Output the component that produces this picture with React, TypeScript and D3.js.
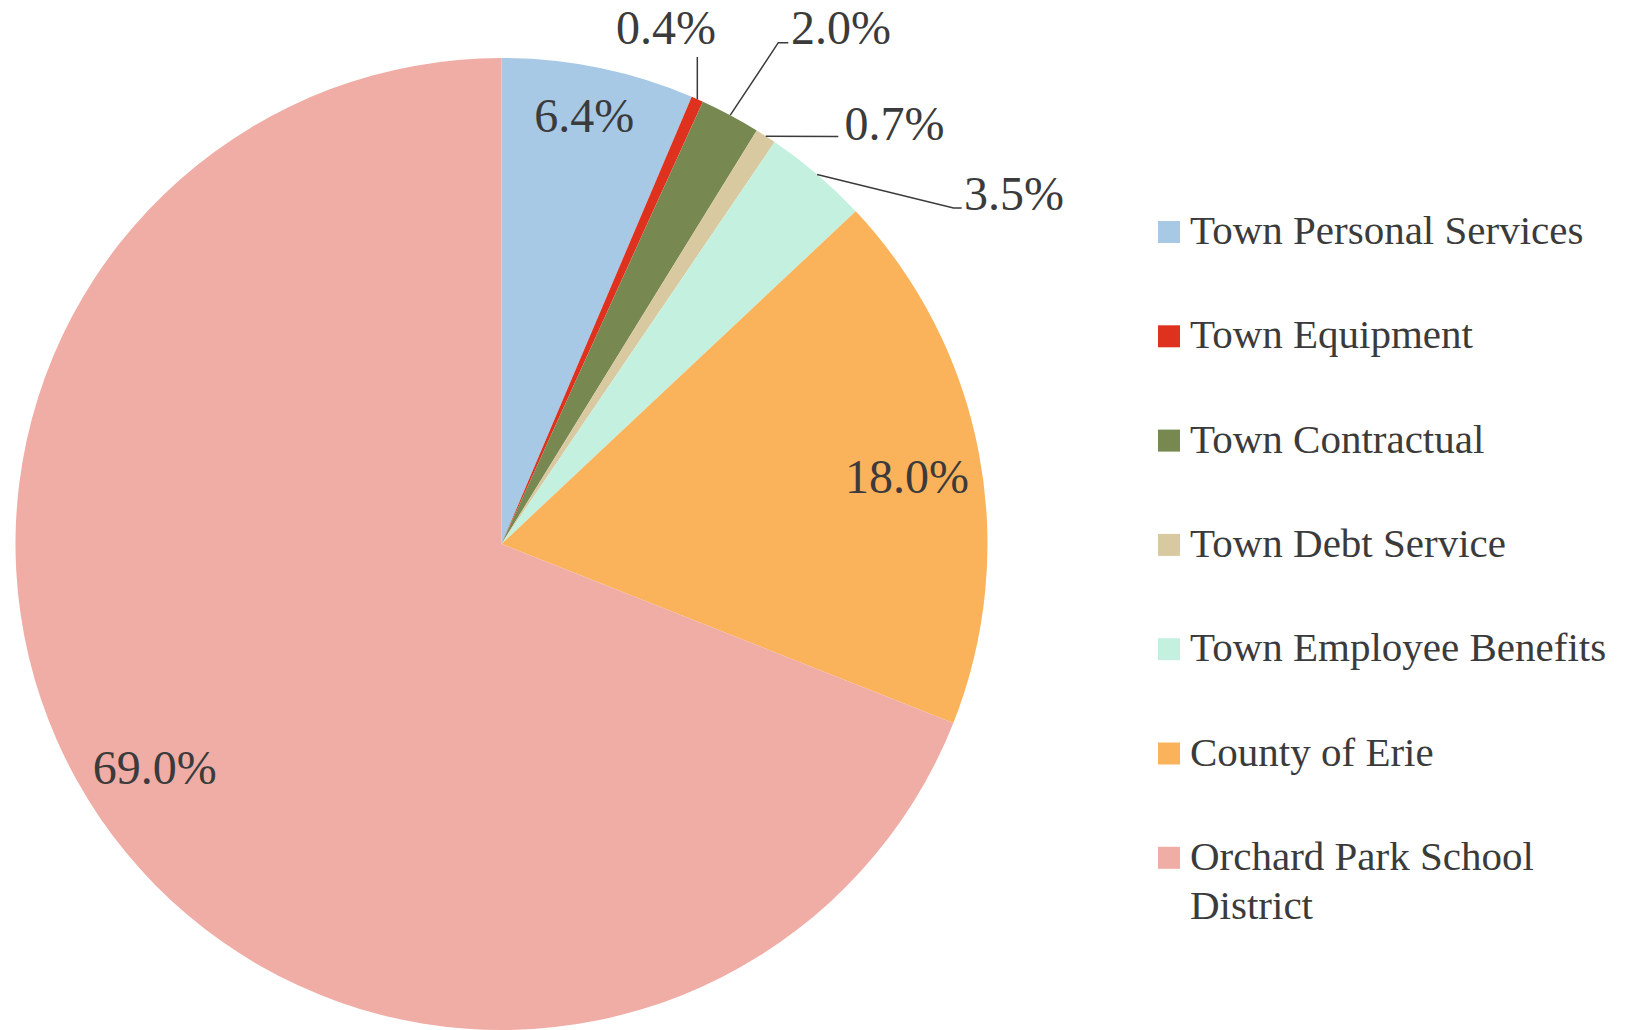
import React from "react";
import * as d3 from "d3";

const categories = [
  "Town Personal Services",
  "Town Equipment",
  "Town Contractual",
  "Town Debt Service",
  "Town Employee Benefits",
  "County of Erie",
  "Orchard Park School District",
];
const values = [6.4, 0.4, 2.0, 0.7, 3.5, 18.0, 69.0];
const valueLabels = ["6.4%", "0.4%", "2.0%", "0.7%", "3.5%", "18.0%", "69.0%"];
const colors = ["#A7C9E5", "#DE321F", "#778851", "#D9C9A0", "#C4F0E0", "#FBB35B", "#EFADA6"];
const legendLines = [
  ["Town Personal Services"],
  ["Town Equipment"],
  ["Town Contractual"],
  ["Town Debt Service"],
  ["Town Employee Benefits"],
  ["County of Erie"],
  ["Orchard Park School", "District"],
];

// layout
const W = 1625;
const H = 1030;
const CX = 501.5;
const CY = 544;
const R = 486;
const FONT = "'Liberation Serif', 'Times New Roman', serif";
const TEXT = "#3b3b3b";
const LABEL_SIZE = 48;
const LEGEND_SIZE = 41;

// inside labels: index -> radius factor and small nudges
const insideLabels: { i: number; rf: number; dx: number; dy: number }[] = [
  { i: 0, rf: 0.9, dx: -4.5, dy: 0 },
  { i: 5, rf: 0.846, dx: 1.5, dy: 9.3 },
  { i: 6, rf: 0.85, dx: -5, dy: -9.3 },
];
// outside labels with leader lines (absolute layout points)
const outsideLabels: {
  i: number;
  pts: [number, number][];
  tx: number;
  ty: number;
  anchor: string;
}[] = [
  { i: 1, pts: [[697.3, 57]], tx: 666, ty: 43.5, anchor: "middle" },
  { i: 2, pts: [[778.3, 42.7], [788.3, 42.7]], tx: 791, ty: 43.5, anchor: "start" },
  { i: 3, pts: [[838.3, 136.5]], tx: 844.5, ty: 139.5, anchor: "start" },
  { i: 4, pts: [[953.5, 208], [961.7, 208]], tx: 964, ty: 210, anchor: "start" },
];

const LEG_X = 1158;
const LEG_Y0 = 244;
const LEG_STEP = 104.3;
const LEG_SW = 22;
const LEG_LINE = 49;

export default function App() {
  const pie = d3
    .pie<number>()
    .sort(null)
    .startAngle(0)
    .endAngle(2 * Math.PI)
    .value((d) => d);
  const arcs = pie(values);
  const arc = d3.arc<d3.PieArcDatum<number>>().innerRadius(0).outerRadius(R);
  const mid = (a: d3.PieArcDatum<number>) => (a.startAngle + a.endAngle) / 2;
  const polar = (ang: number, r: number): [number, number] => [
    CX + r * Math.sin(ang),
    CY - r * Math.cos(ang),
  ];
  const line = d3.line();

  return (
    <svg
      width={W}
      height={H}
      style={{ position: "absolute", left: 0, top: 0, background: "#fff" }}
    >
      <g transform={`translate(${CX},${CY})`}>
        {arcs.map((a, k) => (
          <path key={k} d={arc(a) || ""} fill={colors[k]} />
        ))}
      </g>
      {insideLabels.map(({ i, rf, dx, dy }) => {
        const [x, y] = polar(mid(arcs[i]), R * rf);
        return (
          <text
            key={"in" + i}
            x={x + dx}
            y={y + dy}
            dy="0.35em"
            textAnchor="middle"
            fontFamily={FONT}
            fontSize={LABEL_SIZE}
            fill={TEXT}
          >
            {valueLabels[i]}
          </text>
        );
      })}
      {outsideLabels.map(({ i, pts, tx, ty, anchor }) => {
        const start = polar(mid(arcs[i]), R);
        return (
          <g key={"out" + i}>
            <path
              d={line([start, ...pts]) || ""}
              fill="none"
              stroke="#3b3b3b"
              strokeWidth={1.5}
            />
            <text
              x={tx}
              y={ty}
              textAnchor={anchor as any}
              fontFamily={FONT}
              fontSize={LABEL_SIZE}
              fill={TEXT}
            >
              {valueLabels[i]}
            </text>
          </g>
        );
      })}
      {categories.map((c, k) => {
        const by = LEG_Y0 + k * LEG_STEP;
        return (
          <g key={"leg" + k}>
            <rect
              x={LEG_X}
              y={by - LEG_SW - 1}
              width={LEG_SW}
              height={LEG_SW}
              fill={colors[k]}
            />
            <text
              x={LEG_X + 32}
              y={by}
              fontFamily={FONT}
              fontSize={LEGEND_SIZE}
              fill={TEXT}
            >
              {legendLines[k].map((ln, j) => (
                <tspan key={j} x={LEG_X + 32} y={by + j * LEG_LINE}>
                  {ln}
                </tspan>
              ))}
            </text>
          </g>
        );
      })}
    </svg>
  );
}
